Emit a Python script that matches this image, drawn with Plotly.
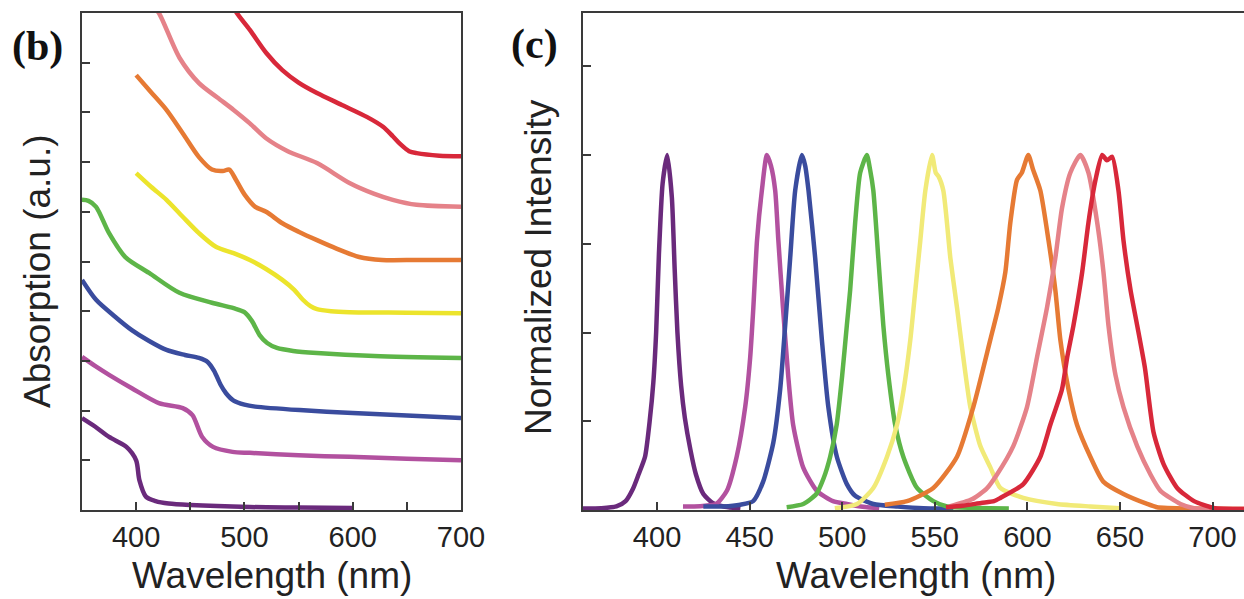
import plotly.graph_objects as go

# ---------------- Panel (b): absorption ----------------
abs_purple_x = [350, 362, 375, 391, 400, 403, 409, 418, 430, 450, 505, 550, 600]
abs_purple_y = [1.85, 1.68, 1.47, 1.27, 1.00, 0.60, 0.27, 0.18, 0.13, 0.10, 0.06, 0.05, 0.04]

abs_magenta_x = [350, 362, 375, 396, 421, 443, 452, 461, 471, 489, 505, 550, 597, 650, 700]
abs_magenta_y = [3.08, 2.90, 2.72, 2.45, 2.15, 2.05, 1.91, 1.47, 1.27, 1.17, 1.15, 1.10, 1.07, 1.03, 1.00]

abs_blue_x = [350, 363, 380, 396, 412, 428, 445, 458, 466, 472, 478, 483, 490, 500, 510, 551, 600, 650, 700]
abs_blue_y = [4.63, 4.23, 3.90, 3.62, 3.40, 3.22, 3.12, 3.06, 2.98, 2.80, 2.52, 2.35, 2.20, 2.12, 2.08, 2.01, 1.95, 1.90, 1.85]

abs_green_x = [350, 356, 363, 375, 390, 412, 440, 470, 490, 500, 507, 514, 521, 530, 545, 567, 620, 700]
abs_green_y = [6.24, 6.22, 6.10, 5.57, 5.09, 4.77, 4.37, 4.17, 4.06, 3.98, 3.80, 3.52, 3.36, 3.26, 3.20, 3.16, 3.10, 3.06]

abs_yellow_x = [400, 414, 428, 443, 458, 474, 490, 505, 520, 535, 546, 554, 561, 567, 580, 597, 650, 700]
abs_yellow_y = [6.78, 6.50, 6.24, 5.90, 5.57, 5.29, 5.17, 5.03, 4.85, 4.63, 4.43, 4.23, 4.10, 4.04, 4.00, 3.98, 3.97, 3.96]

abs_orange_x = [400, 414, 428, 443, 458, 470, 480, 486, 492, 500, 510, 520, 535, 550, 567, 585, 606, 627, 660, 700]
abs_orange_y = [8.75, 8.40, 8.05, 7.58, 7.10, 6.85, 6.82, 6.85, 6.65, 6.35, 6.10, 6.00, 5.77, 5.60, 5.43, 5.26, 5.09, 5.03, 5.03, 5.03]

abs_pink_x = [415, 421, 440, 458, 475, 490, 505, 520, 540, 567, 597, 620, 637, 659, 700]
abs_pink_y = [10.15, 10.0, 9.10, 8.59, 8.30, 8.05, 7.78, 7.48, 7.22, 6.98, 6.58, 6.36, 6.24, 6.14, 6.10]

abs_red_x = [488, 493, 505, 520, 535, 550, 567, 590, 613, 628, 637, 644, 652, 659, 680, 700]
abs_red_y = [10.2, 10.0, 9.66, 9.20, 8.85, 8.60, 8.39, 8.15, 7.91, 7.71, 7.52, 7.36, 7.22, 7.18, 7.13, 7.12]

# ---------------- Panel (c): emission ----------------
em_purple_x = [360, 370, 378, 383, 387, 390, 393.5, 396, 398, 399.5, 401, 403, 405.5, 408, 409.5, 411, 413, 415, 418, 421, 425, 430, 436, 445]
em_purple_y = [0.004, 0.005, 0.01, 0.025, 0.06, 0.10, 0.15, 0.25, 0.36, 0.50, 0.72, 0.92, 1.0, 0.88, 0.68, 0.50, 0.35, 0.26, 0.17, 0.10, 0.045, 0.02, 0.01, 0.004]

em_magenta_x = [414, 420, 426, 432, 437.7, 443, 447.6, 450.3, 452, 454, 456.6, 459.3, 461.5, 463.8, 465.5, 468, 470.8, 473.5, 478.9, 486.3, 495, 502.5, 510, 520]
em_magenta_y = [0.01, 0.01, 0.012, 0.017, 0.054, 0.15, 0.29, 0.43, 0.57, 0.76, 0.90, 1.0, 0.97, 0.90, 0.76, 0.57, 0.38, 0.24, 0.12, 0.054, 0.025, 0.017, 0.01, 0.005]

em_blue_x = [425, 430, 435.7, 445, 451.9, 457.3, 462.8, 466.5, 469.2, 471.9, 474.6, 478.2, 480, 481.8, 485.4, 489, 492.5, 497.1, 502.5, 507, 516.8, 530, 543.8, 560]
em_blue_y = [0.01, 0.01, 0.01, 0.015, 0.025, 0.08, 0.19, 0.34, 0.52, 0.71, 0.90, 1.0, 0.97, 0.90, 0.71, 0.48, 0.29, 0.15, 0.073, 0.04, 0.017, 0.01, 0.005, 0.004]

em_green_x = [470, 479, 486, 490, 493.5, 497, 500, 502.5, 504.3, 507, 509.7, 513.3, 515, 516.8, 519.5, 522.2, 524.9, 528.6, 533, 540.4, 549.2, 556.6, 570, 590]
em_green_y = [0.008, 0.017, 0.045, 0.09, 0.15, 0.24, 0.38, 0.52, 0.62, 0.81, 0.95, 1.0, 0.96, 0.90, 0.71, 0.52, 0.38, 0.24, 0.15, 0.062, 0.025, 0.01, 0.006, 0.004]

em_yellow_x = [496, 508, 516.8, 524.2, 529.6, 533.2, 536.8, 539.5, 542.2, 544.9, 548.5, 550.5, 552, 554.6, 558.4, 562, 565.4, 569.2, 574.6, 580, 585.4, 597.8, 616, 634, 650]
em_yellow_y = [0.005, 0.017, 0.062, 0.15, 0.24, 0.34, 0.48, 0.62, 0.76, 0.90, 1.0, 0.95, 0.94, 0.90, 0.71, 0.57, 0.43, 0.29, 0.18, 0.12, 0.062, 0.034, 0.017, 0.01, 0.005]

em_orange_x = [523, 535, 549.2, 562, 570.8, 580, 584.3, 588.1, 590.8, 594.4, 597, 600.5, 603, 607, 611.4, 615.1, 617.8, 622.2, 626.8, 634, 641, 651.9, 664.7, 670, 690, 717]
em_orange_y = [0.015, 0.025, 0.062, 0.15, 0.29, 0.48, 0.57, 0.67, 0.81, 0.93, 0.95, 1.0, 0.96, 0.90, 0.76, 0.62, 0.48, 0.34, 0.24, 0.15, 0.08, 0.045, 0.017, 0.008, 0.004, 0.003]

em_pink_x = [558, 570, 578, 583.6, 592.4, 599.8, 605.2, 610.6, 615.1, 618.7, 623.2, 628.6, 633, 637.7, 641.1, 643.8, 647.6, 651.9, 659.3, 666.5, 671.9, 682.7, 690, 700, 717]
em_pink_y = [0.01, 0.03, 0.06, 0.10, 0.18, 0.29, 0.43, 0.57, 0.71, 0.85, 0.95, 1.0, 0.95, 0.81, 0.67, 0.52, 0.38, 0.29, 0.18, 0.10, 0.054, 0.017, 0.005, 0.003, 0.003]

em_red_x = [556, 565, 575, 582, 585.4, 597.8, 607, 612.4, 618.7, 621.5, 624.9, 629.6, 633, 636.8, 640.4, 643, 645.8, 649.2, 651.9, 655.7, 659.3, 663.5, 668.1, 673.5, 680.9, 690, 700.5, 717]
em_red_y = [0.008, 0.012, 0.02, 0.025, 0.034, 0.073, 0.15, 0.24, 0.34, 0.43, 0.52, 0.67, 0.81, 0.93, 1.0, 0.985, 0.995, 0.90, 0.76, 0.62, 0.52, 0.40, 0.22, 0.13, 0.062, 0.025, 0.006, 0.003]

b_ticks = [400, 500, 600, 700]
c_ticks = [400, 450, 500, 550, 600, 650, 700]

abs_series = [
    (abs_purple_x, abs_purple_y, "#6a2a7c"),
    (abs_magenta_x, abs_magenta_y, "#b2519f"),
    (abs_blue_x, abs_blue_y, "#3a4c9e"),
    (abs_green_x, abs_green_y, "#5db548"),
    (abs_yellow_x, abs_yellow_y, "#ece42c"),
    (abs_orange_x, abs_orange_y, "#e67a34"),
    (abs_pink_x, abs_pink_y, "#e58289"),
    (abs_red_x, abs_red_y, "#d8283a"),
]
em_series = [
    (em_purple_x, em_purple_y, "#6a2a7c"),
    (em_magenta_x, em_magenta_y, "#b2519f"),
    (em_blue_x, em_blue_y, "#3a4c9e"),
    (em_green_x, em_green_y, "#5db548"),
    (em_yellow_x, em_yellow_y, "#f1ea78"),
    (em_orange_x, em_orange_y, "#e67a34"),
    (em_pink_x, em_pink_y, "#e58289"),
    (em_red_x, em_red_y, "#d8283a"),
]

fig = go.Figure()
for x, y, c in abs_series:
    fig.add_trace(go.Scatter(x=x, y=y, mode="lines", xaxis="x", yaxis="y",
                             line=dict(color=c, width=4.5, shape="spline", smoothing=0.8),
                             showlegend=False, hoverinfo="skip"))
for x, y, c in em_series:
    fig.add_trace(go.Scatter(x=x, y=y, mode="lines", xaxis="x2", yaxis="y2",
                             line=dict(color=c, width=4.5, shape="spline", smoothing=0.6),
                             showlegend=False, hoverinfo="skip"))

W, H = 1244, 599
ydom = [(H - 510) / H, (H - 13) / H]
axis_line = "#3a3a3a"
tickfont = dict(family="Liberation Sans, Arial, sans-serif", size=29, color="#222")
common = dict(showline=True, linecolor=axis_line, linewidth=2, showgrid=False, zeroline=False,
              ticks="inside", ticklen=8, tickwidth=1.5, tickcolor=axis_line, automargin=False)

fig.update_layout(
    width=W, height=H, margin=dict(l=0, r=0, t=0, b=0),
    paper_bgcolor="white", plot_bgcolor="white",
    xaxis=dict(domain=[82 / W, 461 / W], range=[350, 700], tickvals=b_ticks,
               ticktext=[str(v) for v in b_ticks], mirror=True, tickfont=tickfont, anchor="y",
               minor=dict(dtick=50, tick0=350, ticks="inside", ticklen=8, tickcolor=axis_line),
               **common),
    yaxis=dict(domain=ydom, range=[0, 10], dtick=1, showticklabels=False, mirror=True,
               anchor="x", **common),
    xaxis2=dict(domain=[583 / W, 1.0], range=[360, 717], tickvals=c_ticks,
                ticktext=[str(v) for v in c_ticks], mirror=True, tickfont=tickfont, anchor="y2",
                **common),
    yaxis2=dict(domain=ydom, range=[0, 1.4], dtick=0.25, showticklabels=False,
                anchor="x2", **common),
)

titlefont = dict(family="Liberation Sans, Arial, sans-serif", size=37, color="#222")
panelfont = dict(family="Liberation Serif, Times New Roman, serif", size=42, color="#111")

fig.add_annotation(text="Wavelength (nm)", x=272 / W, y=1 - 575 / H, xref="paper", yref="paper",
                   showarrow=False, font=titlefont, xanchor="center", yanchor="middle")
fig.add_annotation(text="Wavelength (nm)", x=916 / W, y=1 - 575 / H, xref="paper", yref="paper",
                   showarrow=False, font=titlefont, xanchor="center", yanchor="middle")
fig.add_annotation(text="Absorption (a.u.)", x=37 / W, y=1 - 271 / H, xref="paper", yref="paper",
                   showarrow=False, font=titlefont, textangle=-90, xanchor="center", yanchor="middle")
fig.add_annotation(text="Normalized Intensity", x=538 / W, y=1 - 267 / H, xref="paper", yref="paper",
                   showarrow=False, font=titlefont, textangle=-90, xanchor="center", yanchor="middle")
fig.add_annotation(text="<b>(b)</b>", x=37 / W, y=1 - 46 / H, xref="paper", yref="paper",
                   showarrow=False, font=panelfont, xanchor="center", yanchor="middle")
fig.add_annotation(text="<b>(c)</b>", x=534 / W, y=1 - 44 / H, xref="paper", yref="paper",
                   showarrow=False, font=panelfont, xanchor="center", yanchor="middle")

fig.write_html("out.html", config={"displayModeBar": False},
               post_script="document.body.style.margin='0';document.body.style.padding='0';")
